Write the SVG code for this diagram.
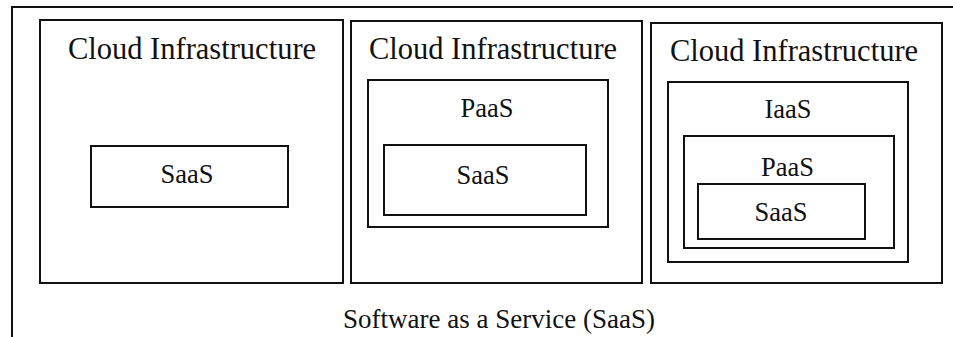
<svg xmlns="http://www.w3.org/2000/svg" width="953" height="337" viewBox="0 0 953 337">
<style>
.box{fill:none;stroke:#111;stroke-width:2}
.frame{fill:none;stroke:#111;stroke-width:2}
.lbl{font-family:'Liberation Serif','Times New Roman',Times,serif;fill:#111;text-anchor:middle}
.t{font-size:30.5px}
.s{font-size:26.5px}
.b{font-size:27px}
</style>
<rect width="953" height="337" fill="#fff"/>
<g id="frame">
<path class="frame" d="M12,337 V7 H953"/>
<text class="lbl b" font-family="Liberation Serif, serif" x="499" y="328">Software as a Service (SaaS)</text>
</g>
<g id="cloud1">
<rect class="box" x="40" y="20" width="303" height="263"/>
<text class="lbl t" font-family="Liberation Serif, serif" x="192" y="59">Cloud Infrastructure</text>
</g>
<g id="saas1">
<rect class="box" x="91" y="146" width="197" height="61"/>
<text class="lbl s" font-family="Liberation Serif, serif" x="187" y="183">SaaS</text>
</g>
<g id="cloud2">
<rect class="box" x="351" y="21" width="291" height="262"/>
<text class="lbl t" font-family="Liberation Serif, serif" x="493" y="59">Cloud Infrastructure</text>
</g>
<g id="paas2">
<rect class="box" x="368" y="80" width="240" height="147"/>
<text class="lbl s" font-family="Liberation Serif, serif" x="487" y="117">PaaS</text>
</g>
<g id="saas2">
<rect class="box" x="384" y="145" width="202" height="70"/>
<text class="lbl s" font-family="Liberation Serif, serif" x="483" y="184">SaaS</text>
</g>
<g id="cloud3">
<rect class="box" x="651" y="23" width="291" height="260"/>
<text class="lbl t" font-family="Liberation Serif, serif" x="794" y="61">Cloud Infrastructure</text>
</g>
<g id="iaas3">
<rect class="box" x="668" y="82" width="240" height="180"/>
<text class="lbl s" font-family="Liberation Serif, serif" x="788" y="118">IaaS</text>
</g>
<g id="paas3">
<rect class="box" x="684" y="136" width="210" height="112"/>
<text class="lbl s" font-family="Liberation Serif, serif" x="787.5" y="176">PaaS</text>
</g>
<g id="saas3">
<rect class="box" x="698" y="184" width="167" height="55"/>
<text class="lbl s" font-family="Liberation Serif, serif" x="781" y="221">SaaS</text>
</g>
<g id="connectors"/>
</svg>
